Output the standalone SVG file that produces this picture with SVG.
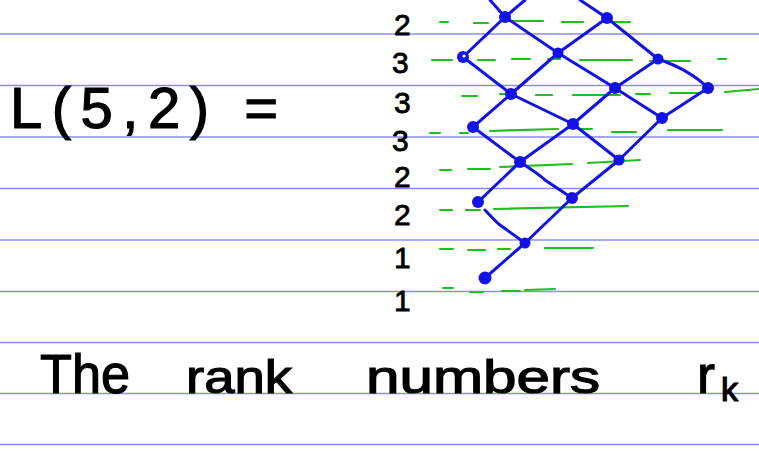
<svg xmlns="http://www.w3.org/2000/svg" width="759" height="455" viewBox="0 0 759 455">
<style>
.rule{stroke:#8c8cf5;stroke-width:1.5}
.g{stroke:#1fbf1f;stroke-width:2.2;fill:none;stroke-linecap:round}
.e{stroke:#1212e6;stroke-width:3;fill:none;stroke-linecap:round}
.n{fill:#1212e6}
.hw{font-family:"Liberation Sans","DejaVu Sans",sans-serif;fill:#000;stroke:#000;stroke-width:1.2}
.rk{font-family:"Liberation Sans","DejaVu Sans",sans-serif;font-size:30px;fill:#000;stroke:#000;stroke-width:0.8}
</style>
<rect width="759" height="455" fill="#fff"/>
<g id="rules">
<line class="rule" x1="0" y1="34" x2="759" y2="34"/>
<line class="rule" x1="0" y1="85.5" x2="759" y2="85.5"/>
<line class="rule" x1="0" y1="137" x2="759" y2="137"/>
<line class="rule" x1="0" y1="188.5" x2="759" y2="188.5"/>
<line class="rule" x1="0" y1="240" x2="759" y2="240"/>
<line class="rule" x1="0" y1="291.5" x2="759" y2="291.5"/>
<line class="rule" x1="0" y1="342.5" x2="759" y2="342.5"/>
<line class="rule" x1="0" y1="393.5" x2="759" y2="393.5"/>
<line class="rule" x1="0" y1="444.5" x2="759" y2="444.5"/>
</g>
<g id="rank-levels">
<path class="g" d="M440 22 H448 M474 23 H488 M500 21 H543 M562 22 H583 M600 22 H630"/>
<path class="g" d="M432 60 H452 M478 60 H495 M512 59 H530 M548 59 H560 M580 60 H632 M650 61 H690 M718 59 H726"/>
<path class="g" d="M462 96 H477 M500 94 H512 M536 95 H552 M573 95 H620 M636 94 H650 M670 93 H700 M725 92 L759 89"/>
<path class="g" d="M430 133 H440 M460 133 H468 M490 131 L558 129 M580 129 H592 M612 132 H636 M668 130 H722"/>
<path class="g" d="M440 170 H451 M468 169 H490 M500 167 L572 164 M588 163 L640 160"/>
<path class="g" d="M440 210 H452 M466 210 H480 M494 209 L628 206"/>
<path class="g" d="M440 249 H453 M468 250 H485 M498 249 H510 M545 248 H593"/>
<path class="g" d="M443 288 H453 M470 292 H483 M502 291 H520 M525 290 L555 289"/>
</g>
<g id="connectors">
<path class="e" d="M490 0 L505 17"/>
<path class="e" d="M525 0 L505 17"/>
<path class="e" d="M580 0 L607 18"/>
<path class="e" d="M463 57 L505 17"/>
<path class="e" d="M505 17 L558 53"/>
<path class="e" d="M558 53 L607 18"/>
<path class="e" d="M607 18 L658 59"/>
<path class="e" d="M463 57 L511 94"/>
<path class="e" d="M558 53 L511 94"/>
<path class="e" d="M558 53 L615 88"/>
<path class="e" d="M658 59 L615 88"/>
<path class="e" d="M658 59 Q690 70 708 88"/>
<path class="e" d="M511 94 L473 127"/>
<path class="e" d="M511 94 L573 124"/>
<path class="e" d="M615 88 L573 124"/>
<path class="e" d="M615 88 L662 118"/>
<path class="e" d="M708 88 L662 118"/>
<path class="e" d="M473 127 L520 162"/>
<path class="e" d="M573 124 L520 162"/>
<path class="e" d="M573 124 L619 160"/>
<path class="e" d="M662 118 L619 160"/>
<path class="e" d="M520 162 L478 202"/>
<path class="e" d="M520 162 Q540 175 545 180 L572 198"/>
<path class="e" d="M619 160 L572 198"/>
<path class="e" d="M485 210 Q496 222 500 225 L525 243"/>
<path class="e" d="M572 198 L525 243"/>
<path class="e" d="M525 243 L485 278"/>
</g>
<g id="n-r7a"><circle class="n" cx="505" cy="17" r="6"/></g>
<g id="n-r7b"><circle class="n" cx="607" cy="18" r="6"/></g>
<g id="n-r6a"><circle class="n" cx="463" cy="57" r="6"/><circle cx="464" cy="56" r="1.6" fill="#fff"/></g>
<g id="n-r6b"><circle class="n" cx="558" cy="53" r="5.5"/></g>
<g id="n-r6c"><circle class="n" cx="658" cy="59" r="5.5"/></g>
<g id="n-r5a"><circle class="n" cx="511" cy="94" r="6"/></g>
<g id="n-r5b"><circle class="n" cx="615" cy="88" r="6"/></g>
<g id="n-r5c"><circle class="n" cx="708" cy="88" r="6"/></g>
<g id="n-r4a"><circle class="n" cx="473" cy="127" r="6"/></g>
<g id="n-r4b"><circle class="n" cx="573" cy="124" r="6"/></g>
<g id="n-r4c"><circle class="n" cx="662" cy="118" r="6"/></g>
<g id="n-r3a"><circle class="n" cx="520" cy="162" r="6"/></g>
<g id="n-r3b"><circle class="n" cx="619" cy="160" r="5.5"/></g>
<g id="n-r2a"><circle class="n" cx="478" cy="202" r="6"/></g>
<g id="n-r2b"><circle class="n" cx="572" cy="198" r="6"/></g>
<g id="n-r1"><circle class="n" cx="525" cy="243" r="5.5"/></g>
<g id="n-r0"><circle class="n" cx="485" cy="278" r="6.5"/></g>
<g id="rank-numbers">
<text class="rk" x="394" y="35">2</text>
<text class="rk" x="392" y="73">3</text>
<text class="rk" x="394" y="113">3</text>
<text class="rk" x="392" y="151">3</text>
<text class="rk" x="394" y="187">2</text>
<text class="rk" x="394" y="225">2</text>
<text class="rk" x="394" y="268">1</text>
<text class="rk" x="394" y="311">1</text>
</g>
<text class="hw" x="10" y="128" font-size="58" textLength="268" lengthAdjust="spacing">L(5,2) =</text>
<text class="hw" x="40" y="393" font-size="56" textLength="90" lengthAdjust="spacingAndGlyphs">The</text>
<text class="hw" x="186" y="393" font-size="46" textLength="106" lengthAdjust="spacingAndGlyphs">rank</text>
<text class="hw" x="366" y="393" font-size="46" textLength="234" lengthAdjust="spacingAndGlyphs">numbers</text>
<text class="hw" x="697" y="393" font-size="54">r<tspan font-size="34" dx="6" dy="8">k</tspan></text>
</svg>
